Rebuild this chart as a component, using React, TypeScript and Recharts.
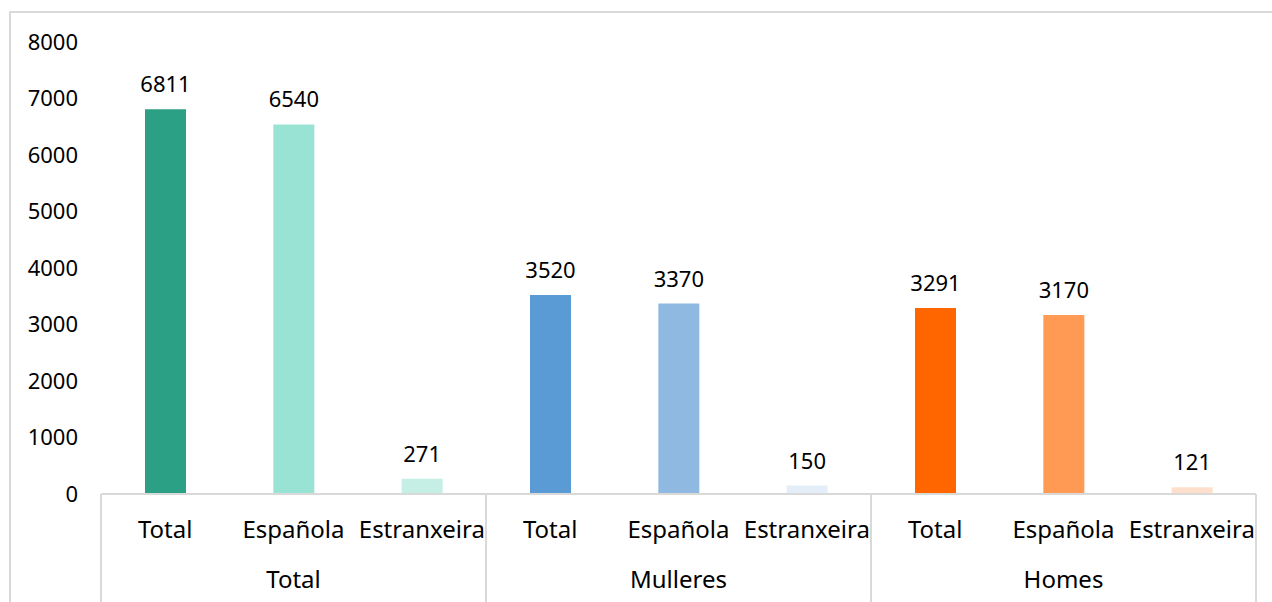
import { BarChart, Bar, XAxis, YAxis, Cell, LabelList } from "recharts";

const groups = ["Total", "Mulleres", "Homes"];
const categories = ["Total", "Española", "Estranxeira"];
const totalValues = [6811, 6540, 271];
const mulleresValues = [3520, 3370, 150];
const homesValues = [3291, 3170, 121];
const yTicks = [0, 1000, 2000, 3000, 4000, 5000, 6000, 7000, 8000];

const barColors = [
    "#2ba085", "#98e3d4", "#c5eee5",
    "#5b9bd5", "#8fb9e1", "#e4eef8",
    "#ff6600", "#ff9a55", "#fddfcb",
];

const seriesByGroup = [totalValues, mulleresValues, homesValues];
const data = groups.flatMap((group, g) =>
    categories.map((category, c) => ({
        group,
        category,
        value: seriesByGroup[g][c],
    }))
);

const WIDTH = 1272;
const HEIGHT = 602;
const MARGIN = { top: 42, right: 16, bottom: 0, left: 0 };
const Y_WIDTH = 101;
const BAND = (WIDTH - Y_WIDTH - MARGIN.right) / data.length;
const FONT = "'Noto Sans', 'Open Sans', sans-serif";

const CategoryTick = (props: any) => {
    const { x, y, payload, index } = props;
    const row = data[index];
    const isFirst = index % 3 === 0;
    const isLast = index === data.length - 1;
    return (
        <g>
            <text x={x} y={y + 36} textAnchor="middle" fontSize={24} fill="#000" fontFamily={FONT}>
                {payload.value}
            </text>
            {index % 3 === 1 && (
                <text x={x} y={y + 86} textAnchor="middle" fontSize={24} fill="#000" fontFamily={FONT}>
                    {row.group}
                </text>
            )}
            {isFirst && <line x1={x - BAND / 2} x2={x - BAND / 2} y1={y - 8} y2={HEIGHT} stroke="#d9d9d9" strokeWidth={2} />}
            {isLast && <line x1={x + BAND / 2} x2={x + BAND / 2} y1={y - 8} y2={HEIGHT} stroke="#d9d9d9" strokeWidth={2} />}
        </g>
    );
};

export default function App() {
    return (
        <div style={{ position: "fixed", left: 0, top: 0, width: WIDTH, height: HEIGHT, background: "#fff", overflow: "hidden" }}>
            <div
                style={{
                    position: "absolute",
                    left: 9,
                    top: 11,
                    width: WIDTH,
                    height: HEIGHT,
                    border: "2px solid #d9d9d9",
                    boxSizing: "border-box",
                }}
            />
            <div style={{ position: "absolute", left: 0, top: 0 }}>
                <BarChart width={WIDTH} height={HEIGHT} data={data} margin={MARGIN}>
                    <YAxis
                        width={Y_WIDTH}
                        domain={[0, 8000]}
                        ticks={yTicks}
                        axisLine={false}
                        tickLine={false}
                        tickSize={0}
                        tickMargin={23}
                        tick={{ fontSize: 22, fill: "#000", fontFamily: FONT }}
                    />
                    <XAxis
                        dataKey="category"
                        height={108}
                        interval={0}
                        axisLine={{ stroke: "#d9d9d9", strokeWidth: 2 }}
                        tickLine={false}
                        tick={<CategoryTick />}
                    />
                    <Bar dataKey="value" barSize={41} isAnimationActive={false}>
                        {data.map((_, i) => (
                            <Cell key={i} fill={barColors[i]} />
                        ))}
                        <LabelList
                            dataKey="value"
                            position="top"
                            offset={17}
                            style={{ fontSize: 22, fill: "#000", fontFamily: FONT }}
                        />
                    </Bar>
                </BarChart>
            </div>
        </div>
    );
}
